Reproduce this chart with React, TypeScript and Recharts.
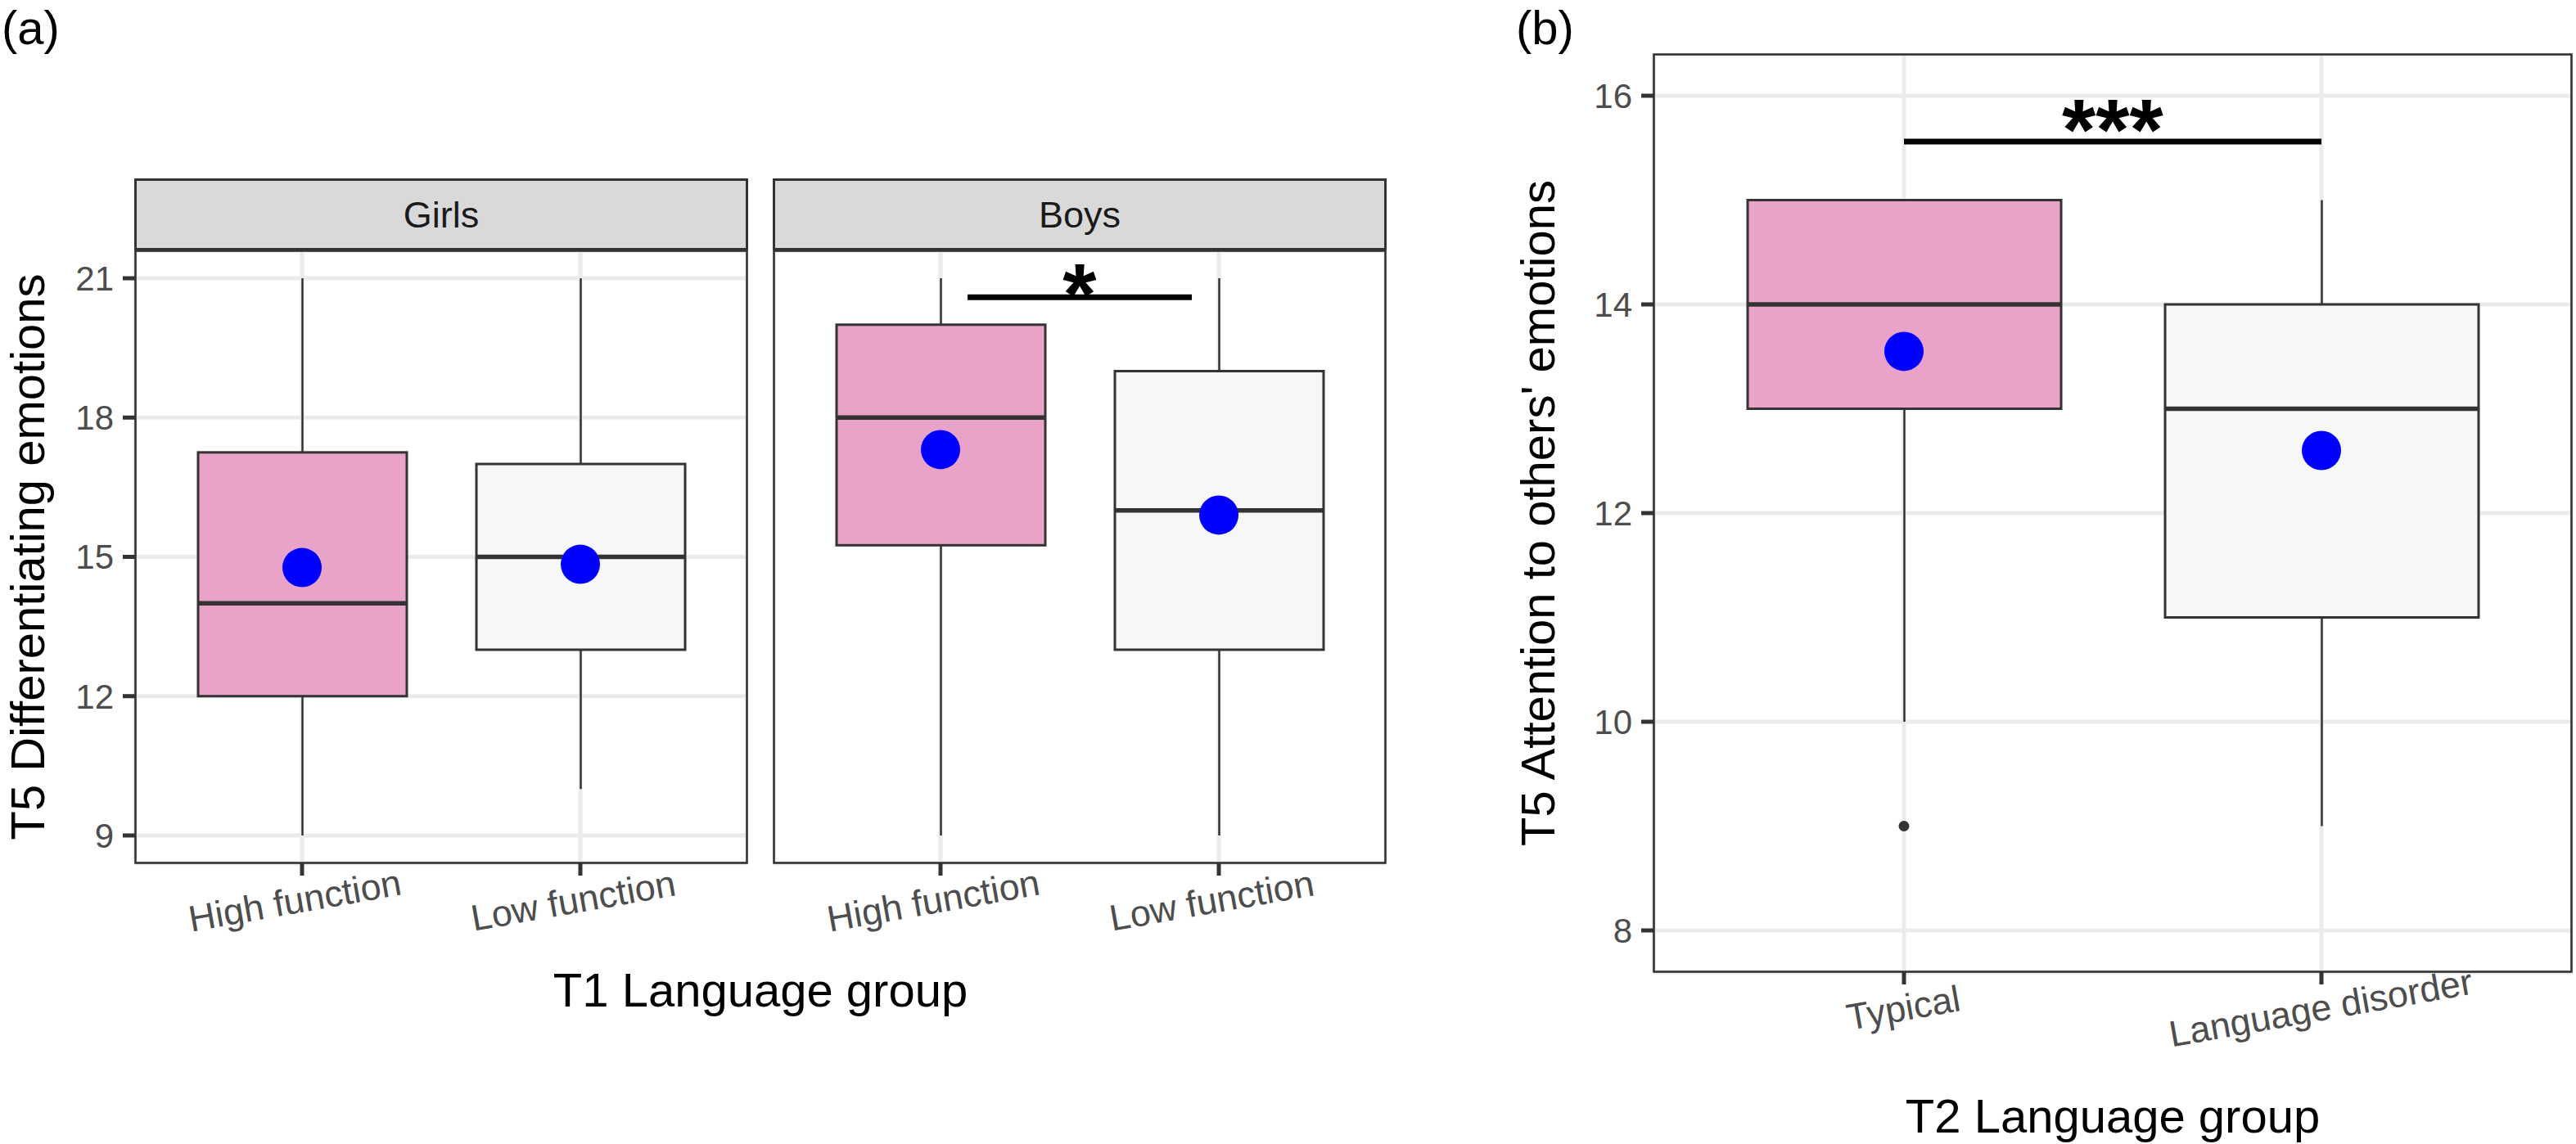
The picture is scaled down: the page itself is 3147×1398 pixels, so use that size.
import React from 'react';
import {
  ComposedChart,
  Bar,
  Scatter,
  XAxis,
  YAxis,
  CartesianGrid,
  ReferenceLine,
} from 'recharts';

const FONT = '"Liberation Sans", Arial, Helvetica, sans-serif';

// ---------- Panel (a) data ----------
const aCategories = ['High function', 'Low function'];
const aFacets = ['Girls', 'Boys'];

const girlsMin = [9, 10];
const girlsQ1 = [12, 13];
const girlsMedian = [14, 15];
const girlsQ3 = [17.25, 17];
const girlsMax = [21, 21];
const girlsMean = [14.77, 14.84];

const boysMin = [9, 9];
const boysQ1 = [15.25, 13];
const boysMedian = [18, 16];
const boysQ3 = [20, 19];
const boysMax = [21, 21];
const boysMean = [17.31, 15.9];

const aYTicks = [9, 12, 15, 18, 21];
const aYMinorTicks = [10.5, 13.5, 16.5, 19.5];
const aYDomain = [8.4, 21.6];
const boysSignifY = 20.59;
const boysSignifLabel = '*';

// ---------- Panel (b) data ----------
const bCategories = ['Typical', 'Language disorder'];
const bMin = [10, 9];
const bQ1 = [13, 11];
const bMedian = [14, 13];
const bQ3 = [15, 14];
const bMax = [15, 15];
const bMean = [13.55, 12.6];
const bOutlier = [9, null];

const bYTicks = [8, 10, 12, 14, 16];
const bYMinorTicks = [9, 11, 13, 15];
const bYDomain = [7.6, 16.4];
const bSignifY = 15.56;
const bSignifLabel = '***';

// ---------- Titles ----------
const aYTitle = 'T5 Differentiating emotions';
const aXTitle = 'T1 Language group';
const bYTitle = "T5 Attention to others' emotions";
const bXTitle = 'T2 Language group';

const groupFills = ['#E9A3C9', '#F7F7F7'];

type Row = {
  cat: string;
  range: [number, number];
  min: number;
  q1: number;
  median: number;
  q3: number;
  max: number;
  mean: number;
  outlier: number | null;
  idx: number;
};

function buildRows(
  cats: string[],
  mins: number[],
  q1s: number[],
  meds: number[],
  q3s: number[],
  maxs: number[],
  means: number[],
  outliers?: (number | null)[]
): Row[] {
  return cats.map((cat, i) => ({
    cat,
    range: [mins[i], maxs[i]],
    min: mins[i],
    q1: q1s[i],
    median: meds[i],
    q3: q3s[i],
    max: maxs[i],
    mean: means[i],
    outlier: outliers ? outliers[i] : null,
    idx: i,
  }));
}

const girlsRows = buildRows(aCategories, girlsMin, girlsQ1, girlsMedian, girlsQ3, girlsMax, girlsMean);
const boysRows = buildRows(aCategories, boysMin, boysQ1, boysMedian, boysQ3, boysMax, boysMean);
const bRows = buildRows(bCategories, bMin, bQ1, bMedian, bQ3, bMax, bMean, bOutlier);

const DARK = '#333333';

const BoxShape = (props: any) => {
  const { x, y, width, height, payload } = props;
  if (!payload || x == null || y == null) return <g />;
  const top = Math.min(y, y + height);
  const h = Math.abs(height);
  const ppu = h / (payload.max - payload.min);
  const Y = (v: number) => top + (payload.max - v) * ppu;
  const cx = x + width / 2;
  return (
    <g>
      <line x1={cx} x2={cx} y1={Y(payload.max)} y2={Y(payload.q3)} stroke={DARK} strokeWidth={2.5} />
      <line x1={cx} x2={cx} y1={Y(payload.q1)} y2={Y(payload.min)} stroke={DARK} strokeWidth={2.5} />
      <rect
        x={x}
        y={Y(payload.q3)}
        width={width}
        height={Y(payload.q1) - Y(payload.q3)}
        fill={groupFills[payload.idx]}
        stroke={DARK}
        strokeWidth={3}
      />
      <line x1={x} x2={x + width} y1={Y(payload.median)} y2={Y(payload.median)} stroke={DARK} strokeWidth={5.5} />
    </g>
  );
};

const MeanDot = (props: any) => {
  const { cx, cy } = props;
  if (cx == null || cy == null || isNaN(cx) || isNaN(cy)) return <g />;
  return <circle cx={cx} cy={cy} r={24} fill="#0000FF" />;
};

const OutlierDot = (props: any) => {
  const { cx, cy, payload } = props;
  if (!payload || payload.outlier == null || cx == null || cy == null || isNaN(cy)) return <g />;
  return <circle cx={cx} cy={cy} r={6.5} fill={DARK} />;
};

const makeSignif = (label: string, shrink: number, baselineOffset: number) => (p: any) => {
  const { x1, x2, y1 } = p;
  if (x1 == null || x2 == null || y1 == null) return <g />;
  const dx = (x2 - x1) * shrink;
  return (
    <g>
      <line x1={x1 + dx} x2={x2 - dx} y1={y1} y2={y1} stroke="#000" strokeWidth={7} />
      <text
        x={(x1 + x2) / 2}
        y={y1 + baselineOffset}
        textAnchor="middle"
        fontSize={106}
        fontWeight="bold"
        fontFamily={FONT}
        fill="#000"
      >
        {label}
      </text>
    </g>
  );
};

const makeXTick = (dx: number, dy: number) => (props: any) => {
  const { x, y, payload } = props;
  const cx = x + dx;
  const cy = y + dy;
  return (
    <g transform={`translate(${cx},${cy}) rotate(-10)`}>
      <text x={0} y={11} textAnchor="middle" fontSize={45} fill="#4D4D4D" fontFamily={FONT}>
        {payload.value}
      </text>
    </g>
  );
};

const minorGen = (ticks: number[]) => (args: any) => {
  const s = args && args.yAxis && args.yAxis.scale;
  if (typeof s !== 'function') return [];
  return ticks.map((t) => s(t));
};

const XTickA = makeXTick(-8, 35);
const XTickB = makeXTick(0, 33);

type PanelProps = {
  rows: Row[];
  width: number;
  height: number;
  topMargin: number;
  yAxisWidth: number;
  xAxisHeight: number;
  showYTicks: boolean;
  yDomain: number[];
  yTicks: number[];
  yMinor: number[];
  xPadding: number;
  barSize: number;
  XTick: any;
  signif?: { a: string; b: string; y: number; label: string; shrink: number; offset: number };
};

const BoxPanel = ({
  rows,
  width,
  height,
  topMargin,
  yAxisWidth,
  xAxisHeight,
  showYTicks,
  yDomain,
  yTicks,
  yMinor,
  xPadding,
  barSize,
  XTick,
  signif,
}: PanelProps) => (
  <ComposedChart
    width={width}
    height={height}
    data={rows}
    margin={{ top: topMargin, right: 0, bottom: 0, left: 0 }}
    style={{ fontFamily: FONT }}
  >
    <CartesianGrid
      stroke="#EBEBEB"
      strokeWidth={2.5}
      vertical={false}
      horizontalCoordinatesGenerator={minorGen(yMinor)}
    />
    <CartesianGrid stroke="#EBEBEB" strokeWidth={5} />
    <XAxis
      dataKey="cat"
      type="category"
      padding={{ left: xPadding, right: xPadding }}
      height={xAxisHeight}
      axisLine={false}
      tickLine={{ stroke: DARK, strokeWidth: 5 }}
      tickSize={15}
      tickMargin={0}
      interval={0}
      tick={<XTick />}
    />
    <YAxis
      type="number"
      domain={yDomain}
      ticks={yTicks}
      allowDataOverflow
      interval={0}
      width={yAxisWidth}
      axisLine={false}
      tickLine={showYTicks ? { stroke: DARK, strokeWidth: 5 } : false}
      tickSize={15}
      tickMargin={11}
      tick={showYTicks ? { fontSize: 42, fill: '#4D4D4D', fontFamily: FONT } : false}
    />
    <Bar dataKey="range" barSize={barSize} shape={BoxShape} isAnimationActive={false} />
    <Scatter dataKey="outlier" shape={OutlierDot} isAnimationActive={false} />
    <Scatter dataKey="mean" shape={MeanDot} isAnimationActive={false} />
    {signif && (
      <ReferenceLine
        segment={[
          { x: signif.a, y: signif.y },
          { x: signif.b, y: signif.y },
        ]}
        shape={makeSignif(signif.label, signif.shrink, signif.offset)}
      />
    )}
  </ComposedChart>
);

// layout of plot panels (page pixels)
const GIRLS = { L: 165, R: 913, T: 306, B: 1055 };
const BOYS = { L: 945, R: 1693, T: 306, B: 1055 };
const PB = { L: 2020, R: 3142, T: 66, B: 1188 };
const STRIP_TOP = 218;
const A_CHART_TOP = STRIP_TOP;
const A_CHART_H = 988;

const Border = ({ p }: { p: { L: number; R: number; T: number; B: number } }) => (
  <rect x={p.L + 0.5} y={p.T + 0.5} width={p.R - p.L - 1} height={p.B - p.T - 1} fill="none" stroke={DARK} strokeWidth={2.6} />
);

const Strip = ({ p, label }: { p: { L: number; R: number }; label: string }) => (
  <g>
    <rect x={p.L + 0.5} y={STRIP_TOP + 1.5} width={p.R - p.L - 1} height={85} fill="#D9D9D9" stroke={DARK} strokeWidth={3} />
    <text x={(p.L + p.R) / 2} y={278} textAnchor="middle" fontSize={45} fill="#1A1A1A" fontFamily={FONT}>
      {label}
    </text>
  </g>
);

export default function App() {
  const aTop = GIRLS.T - A_CHART_TOP;
  const aXAxisH = A_CHART_H - aTop - (GIRLS.B - GIRLS.T);
  return (
    <div
      style={{
        position: 'absolute',
        left: 0,
        top: 0,
        width: 3147,
        height: 1398,
        background: '#FFFFFF',
        overflow: 'hidden',
        fontFamily: FONT,
      }}
    >
      <div style={{ position: 'absolute', left: 0, top: A_CHART_TOP }}>
        <BoxPanel
          rows={girlsRows}
          width={GIRLS.R}
          height={A_CHART_H}
          topMargin={aTop}
          yAxisWidth={GIRLS.L}
          xAxisHeight={aXAxisH}
          showYTicks
          yDomain={aYDomain}
          yTicks={aYTicks}
          yMinor={aYMinorTicks}
          xPadding={34}
          barSize={255}
          XTick={XTickA}
        />
      </div>
      <div style={{ position: 'absolute', left: BOYS.L, top: A_CHART_TOP }}>
        <BoxPanel
          rows={boysRows}
          width={BOYS.R - BOYS.L}
          height={A_CHART_H}
          topMargin={aTop}
          yAxisWidth={0}
          xAxisHeight={aXAxisH}
          showYTicks={false}
          yDomain={aYDomain}
          yTicks={aYTicks}
          yMinor={aYMinorTicks}
          xPadding={34}
          barSize={255}
          XTick={XTickA}
          signif={{ a: aCategories[0], b: aCategories[1], y: boysSignifY, label: boysSignifLabel, shrink: 0.097, offset: 33 }}
        />
      </div>
      <div style={{ position: 'absolute', left: 1800, top: PB.T }}>
        <BoxPanel
          rows={bRows}
          width={PB.R - 1800}
          height={1242}
          topMargin={0}
          yAxisWidth={PB.L - 1800}
          xAxisHeight={1242 - (PB.B - PB.T)}
          showYTicks
          yDomain={bYDomain}
          yTicks={bYTicks}
          yMinor={bYMinorTicks}
          xPadding={51}
          barSize={383}
          XTick={XTickB}
          signif={{ a: bCategories[0], b: bCategories[1], y: bSignifY, label: bSignifLabel, shrink: 0, offset: 22 }}
        />
      </div>
      <svg
        width={3147}
        height={1398}
        style={{ position: 'absolute', left: 0, top: 0, pointerEvents: 'none' }}
        fontFamily={FONT}
      >
        <Border p={GIRLS} />
        <Border p={BOYS} />
        <Border p={PB} />
        <Strip p={GIRLS} label={aFacets[0]} />
        <Strip p={BOYS} label={aFacets[1]} />
        <text x={2} y={54} fontSize={58} fill="#000">(a)</text>
        <text x={1852} y={54} fontSize={58} fill="#000">(b)</text>
        <text transform={`translate(54,${(GIRLS.T + GIRLS.B) / 2}) rotate(-90)`} textAnchor="middle" fontSize={58} fill="#000">
          {aYTitle}
        </text>
        <text x={(GIRLS.L + BOYS.R) / 2} y={1230} textAnchor="middle" fontSize={58} fill="#000">
          {aXTitle}
        </text>
        <text transform={`translate(1899,${(PB.T + PB.B) / 2}) rotate(-90)`} textAnchor="middle" fontSize={58} fill="#000">
          {bYTitle}
        </text>
        <text x={(PB.L + PB.R) / 2} y={1384} textAnchor="middle" fontSize={58} fill="#000">
          {bXTitle}
        </text>
      </svg>
    </div>
  );
}
